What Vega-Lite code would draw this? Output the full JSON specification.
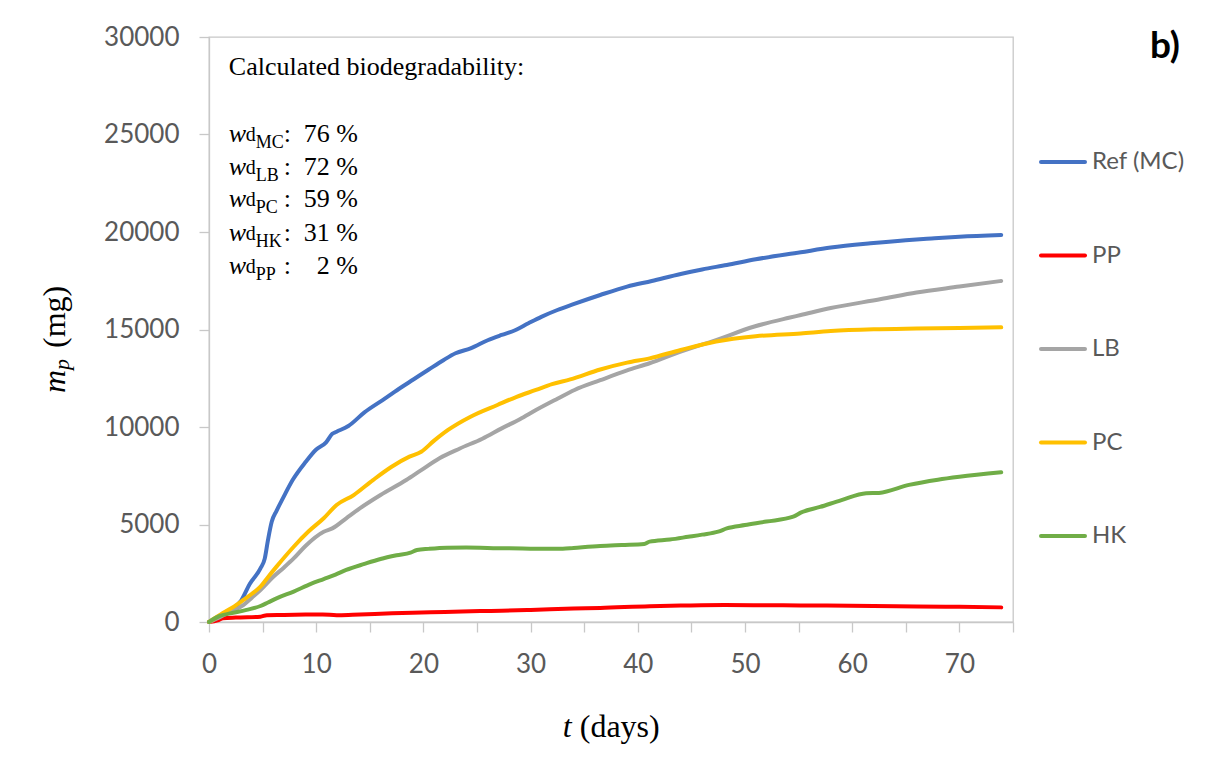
{
  "$schema": "https://vega.github.io/schema/vega-lite/v6.json",
  "width": 804,
  "height": 585,
  "autosize": {"type": "none"},
  "padding": {"left": 209, "top": 37, "right": 192, "bottom": 149},
  "background": "white",
  "config": {"view": {"stroke": "#c8c8c8", "strokeWidth": 1.3}, "font": "Lato"},
  "title": {"text": "b)", "anchor": "end", "frame": "bounds", "orient": "top", "fontSize": 37, "fontWeight": "bold", "font": "Lato", "color": "#000000", "baseline": "top", "offset": -42, "dx": -5},
  "datasets": {
    "curves": [
      {"s": "Ref (MC)", "t": 0, "mp": 0}, {"s": "Ref (MC)", "t": 1, "mp": 250}, {"s": "Ref (MC)", "t": 2, "mp": 600}, {"s": "Ref (MC)", "t": 3, "mp": 1100}, {"s": "Ref (MC)", "t": 3.8, "mp": 1950}, {"s": "Ref (MC)", "t": 4.8, "mp": 2750}, {"s": "Ref (MC)", "t": 5.2, "mp": 3250}, {"s": "Ref (MC)", "t": 5.5, "mp": 4200}, {"s": "Ref (MC)", "t": 5.85, "mp": 5140}, {"s": "Ref (MC)", "t": 6.3, "mp": 5700}, {"s": "Ref (MC)", "t": 6.9, "mp": 6350}, {"s": "Ref (MC)", "t": 7.8, "mp": 7280}, {"s": "Ref (MC)", "t": 9, "mp": 8200}, {"s": "Ref (MC)", "t": 10, "mp": 8850}, {"s": "Ref (MC)", "t": 10.9, "mp": 9200}, {"s": "Ref (MC)", "t": 11.5, "mp": 9650}, {"s": "Ref (MC)", "t": 11.9, "mp": 9760}, {"s": "Ref (MC)", "t": 13, "mp": 10050}, {"s": "Ref (MC)", "t": 14.5, "mp": 10750}, {"s": "Ref (MC)", "t": 16.2, "mp": 11380}, {"s": "Ref (MC)", "t": 17.7, "mp": 11950}, {"s": "Ref (MC)", "t": 19.1, "mp": 12450}, {"s": "Ref (MC)", "t": 20.5, "mp": 12950}, {"s": "Ref (MC)", "t": 21.9, "mp": 13440}, {"s": "Ref (MC)", "t": 23, "mp": 13780}, {"s": "Ref (MC)", "t": 24.4, "mp": 14030}, {"s": "Ref (MC)", "t": 26, "mp": 14450}, {"s": "Ref (MC)", "t": 27.3, "mp": 14720}, {"s": "Ref (MC)", "t": 28.5, "mp": 14950}, {"s": "Ref (MC)", "t": 29.8, "mp": 15320}, {"s": "Ref (MC)", "t": 31, "mp": 15650}, {"s": "Ref (MC)", "t": 32.5, "mp": 16000}, {"s": "Ref (MC)", "t": 34, "mp": 16300}, {"s": "Ref (MC)", "t": 36.5, "mp": 16770}, {"s": "Ref (MC)", "t": 39, "mp": 17200}, {"s": "Ref (MC)", "t": 41.3, "mp": 17490}, {"s": "Ref (MC)", "t": 44, "mp": 17850}, {"s": "Ref (MC)", "t": 46, "mp": 18080}, {"s": "Ref (MC)", "t": 48.3, "mp": 18310}, {"s": "Ref (MC)", "t": 51, "mp": 18600}, {"s": "Ref (MC)", "t": 55.2, "mp": 18960}, {"s": "Ref (MC)", "t": 58, "mp": 19200}, {"s": "Ref (MC)", "t": 61.7, "mp": 19420}, {"s": "Ref (MC)", "t": 65, "mp": 19580}, {"s": "Ref (MC)", "t": 67.4, "mp": 19670}, {"s": "Ref (MC)", "t": 70, "mp": 19760}, {"s": "Ref (MC)", "t": 73.9, "mp": 19850},
      {"s": "PP", "t": 0, "mp": 0}, {"s": "PP", "t": 0.8, "mp": 80}, {"s": "PP", "t": 1.3, "mp": 190}, {"s": "PP", "t": 2.5, "mp": 230}, {"s": "PP", "t": 4.8, "mp": 270}, {"s": "PP", "t": 5.4, "mp": 350}, {"s": "PP", "t": 7, "mp": 360}, {"s": "PP", "t": 9, "mp": 380}, {"s": "PP", "t": 10.6, "mp": 390}, {"s": "PP", "t": 11.9, "mp": 350}, {"s": "PP", "t": 13.4, "mp": 370}, {"s": "PP", "t": 16, "mp": 420}, {"s": "PP", "t": 19, "mp": 480}, {"s": "PP", "t": 22, "mp": 510}, {"s": "PP", "t": 25.3, "mp": 560}, {"s": "PP", "t": 27.3, "mp": 580}, {"s": "PP", "t": 30, "mp": 620}, {"s": "PP", "t": 34, "mp": 690}, {"s": "PP", "t": 36.5, "mp": 720}, {"s": "PP", "t": 41.1, "mp": 810}, {"s": "PP", "t": 44, "mp": 840}, {"s": "PP", "t": 48.1, "mp": 870}, {"s": "PP", "t": 52, "mp": 860}, {"s": "PP", "t": 55.2, "mp": 850}, {"s": "PP", "t": 62, "mp": 820}, {"s": "PP", "t": 66, "mp": 800}, {"s": "PP", "t": 70, "mp": 780}, {"s": "PP", "t": 73.9, "mp": 750},
      {"s": "LB", "t": 0, "mp": 0}, {"s": "LB", "t": 1, "mp": 250}, {"s": "LB", "t": 2, "mp": 530}, {"s": "LB", "t": 3.2, "mp": 870}, {"s": "LB", "t": 4, "mp": 1250}, {"s": "LB", "t": 4.8, "mp": 1640}, {"s": "LB", "t": 6, "mp": 2320}, {"s": "LB", "t": 7, "mp": 2800}, {"s": "LB", "t": 7.9, "mp": 3260}, {"s": "LB", "t": 9, "mp": 3900}, {"s": "LB", "t": 10.7, "mp": 4630}, {"s": "LB", "t": 11.5, "mp": 4800}, {"s": "LB", "t": 12.8, "mp": 5320}, {"s": "LB", "t": 14, "mp": 5800}, {"s": "LB", "t": 16, "mp": 6510}, {"s": "LB", "t": 18.4, "mp": 7280}, {"s": "LB", "t": 19.8, "mp": 7790}, {"s": "LB", "t": 21.5, "mp": 8400}, {"s": "LB", "t": 23.4, "mp": 8900}, {"s": "LB", "t": 25.5, "mp": 9400}, {"s": "LB", "t": 27.3, "mp": 9930}, {"s": "LB", "t": 29, "mp": 10400}, {"s": "LB", "t": 30.5, "mp": 10870}, {"s": "LB", "t": 32.5, "mp": 11450}, {"s": "LB", "t": 34.1, "mp": 11900}, {"s": "LB", "t": 36.5, "mp": 12400}, {"s": "LB", "t": 39, "mp": 12900}, {"s": "LB", "t": 41.1, "mp": 13270}, {"s": "LB", "t": 44, "mp": 13870}, {"s": "LB", "t": 47.3, "mp": 14460}, {"s": "LB", "t": 50.8, "mp": 15140}, {"s": "LB", "t": 54.1, "mp": 15600}, {"s": "LB", "t": 55.2, "mp": 15740}, {"s": "LB", "t": 58, "mp": 16100}, {"s": "LB", "t": 62.7, "mp": 16560}, {"s": "LB", "t": 66, "mp": 16900}, {"s": "LB", "t": 70, "mp": 17200}, {"s": "LB", "t": 73.9, "mp": 17490},
      {"s": "PC", "t": 0, "mp": 0}, {"s": "PC", "t": 1.3, "mp": 460}, {"s": "PC", "t": 2.2, "mp": 750}, {"s": "PC", "t": 3.2, "mp": 1130}, {"s": "PC", "t": 4, "mp": 1450}, {"s": "PC", "t": 4.8, "mp": 1810}, {"s": "PC", "t": 5.5, "mp": 2300}, {"s": "PC", "t": 6.3, "mp": 2840}, {"s": "PC", "t": 7.9, "mp": 3860}, {"s": "PC", "t": 9.3, "mp": 4650}, {"s": "PC", "t": 10.7, "mp": 5320}, {"s": "PC", "t": 11.9, "mp": 6000}, {"s": "PC", "t": 13.5, "mp": 6510}, {"s": "PC", "t": 15.3, "mp": 7280}, {"s": "PC", "t": 17, "mp": 7950}, {"s": "PC", "t": 18.7, "mp": 8480}, {"s": "PC", "t": 19.8, "mp": 8730}, {"s": "PC", "t": 21, "mp": 9300}, {"s": "PC", "t": 22.3, "mp": 9850}, {"s": "PC", "t": 24.4, "mp": 10530}, {"s": "PC", "t": 26.9, "mp": 11130}, {"s": "PC", "t": 28.7, "mp": 11550}, {"s": "PC", "t": 30.5, "mp": 11900}, {"s": "PC", "t": 32, "mp": 12200}, {"s": "PC", "t": 33.7, "mp": 12440}, {"s": "PC", "t": 36.5, "mp": 12950}, {"s": "PC", "t": 39, "mp": 13300}, {"s": "PC", "t": 41.1, "mp": 13520}, {"s": "PC", "t": 44, "mp": 13950}, {"s": "PC", "t": 47.3, "mp": 14380}, {"s": "PC", "t": 51, "mp": 14650}, {"s": "PC", "t": 55.2, "mp": 14800}, {"s": "PC", "t": 58, "mp": 14920}, {"s": "PC", "t": 62, "mp": 15010}, {"s": "PC", "t": 66, "mp": 15050}, {"s": "PC", "t": 70, "mp": 15080}, {"s": "PC", "t": 73.9, "mp": 15110},
      {"s": "HK", "t": 0, "mp": 0}, {"s": "HK", "t": 1, "mp": 310}, {"s": "HK", "t": 2, "mp": 440}, {"s": "HK", "t": 3.5, "mp": 620}, {"s": "HK", "t": 4.8, "mp": 820}, {"s": "HK", "t": 5.5, "mp": 1000}, {"s": "HK", "t": 6.3, "mp": 1210}, {"s": "HK", "t": 7.9, "mp": 1560}, {"s": "HK", "t": 9.5, "mp": 1950}, {"s": "HK", "t": 10.7, "mp": 2200}, {"s": "HK", "t": 11.8, "mp": 2430}, {"s": "HK", "t": 12.8, "mp": 2670}, {"s": "HK", "t": 14.5, "mp": 2980}, {"s": "HK", "t": 16, "mp": 3230}, {"s": "HK", "t": 17.5, "mp": 3420}, {"s": "HK", "t": 18.8, "mp": 3560}, {"s": "HK", "t": 19.4, "mp": 3690}, {"s": "HK", "t": 20.5, "mp": 3750}, {"s": "HK", "t": 22.2, "mp": 3810}, {"s": "HK", "t": 24, "mp": 3820}, {"s": "HK", "t": 25.3, "mp": 3810}, {"s": "HK", "t": 26.9, "mp": 3780}, {"s": "HK", "t": 28, "mp": 3780}, {"s": "HK", "t": 30.5, "mp": 3760}, {"s": "HK", "t": 33, "mp": 3760}, {"s": "HK", "t": 34, "mp": 3800}, {"s": "HK", "t": 36.5, "mp": 3900}, {"s": "HK", "t": 38.5, "mp": 3950}, {"s": "HK", "t": 40.6, "mp": 4000}, {"s": "HK", "t": 41.1, "mp": 4120}, {"s": "HK", "t": 43, "mp": 4230}, {"s": "HK", "t": 44.7, "mp": 4370}, {"s": "HK", "t": 46, "mp": 4480}, {"s": "HK", "t": 47.5, "mp": 4630}, {"s": "HK", "t": 48.3, "mp": 4800}, {"s": "HK", "t": 50, "mp": 4970}, {"s": "HK", "t": 52, "mp": 5150}, {"s": "HK", "t": 54.5, "mp": 5400}, {"s": "HK", "t": 55.2, "mp": 5610}, {"s": "HK", "t": 57, "mp": 5900}, {"s": "HK", "t": 59, "mp": 6250}, {"s": "HK", "t": 61.3, "mp": 6600}, {"s": "HK", "t": 62.5, "mp": 6620}, {"s": "HK", "t": 65.3, "mp": 7030}, {"s": "HK", "t": 68, "mp": 7300}, {"s": "HK", "t": 70, "mp": 7450}, {"s": "HK", "t": 73.9, "mp": 7680}
    ],
    "heading": [{"label": "Calculated biodegradability:", "t": 1.85, "mp": 28051}],
    "wd": [
      {"sub": "MC", "val": "76 %", "t": 1.85, "mp": 24615},
      {"sub": "LB", "val": "72 %", "t": 1.85, "mp": 22923},
      {"sub": "PC", "val": "59 %", "t": 1.85, "mp": 21282},
      {"sub": "HK", "val": "31 %", "t": 1.85, "mp": 19538},
      {"sub": "PP", "val": "2 %", "t": 1.85, "mp": 17846}
    ],
    "ytitle": [{"t": -13.4, "mp": 11744}],
    "xtitle": [{"t": 33.0, "mp": -5897}]
  },
  "encoding": {
    "x": {
      "field": "t", "type": "quantitative",
      "scale": {"domain": [0, 75], "nice": false, "zero": false},
      "axis": {
        "title": null, "grid": false,
        "values": [0, 5, 10, 15, 20, 25, 30, 35, 40, 45, 50, 55, 60, 65, 70, 75],
        "labelExpr": "datum.value % 10 == 0 && datum.value < 75 ? datum.label : ''",
        "domainColor": "#c8c8c8", "domainWidth": 1.3, "tickColor": "#c8c8c8", "tickWidth": 1.3, "tickSize": 10,
        "labelFont": "Lato", "labelFontSize": 26, "labelColor": "#595959", "labelPadding": 19,
        "labelOverlap": false, "labelFlush": false, "labelBound": false
      }
    },
    "y": {
      "field": "mp", "type": "quantitative",
      "scale": {"domain": [0, 30000], "nice": false, "zero": false},
      "axis": {
        "title": null, "grid": false,
        "values": [0, 5000, 10000, 15000, 20000, 25000, 30000],
        "format": "d",
        "domainColor": "#c8c8c8", "domainWidth": 1.3, "tickColor": "#c8c8c8", "tickWidth": 1.3, "tickSize": 10,
        "labelFont": "Lato", "labelFontSize": 26, "labelColor": "#595959", "labelPadding": 20,
        "labelOverlap": false, "labelFlush": false, "labelBound": false
      }
    }
  },
  "layer": [
    {
      "data": {"name": "curves"},
      "mark": {"type": "line", "strokeWidth": 4, "interpolate": "monotone", "strokeCap": "round", "strokeJoin": "round"},
      "encoding": {
        "color": {
          "field": "s", "type": "nominal",
          "scale": {"domain": ["Ref (MC)", "PP", "LB", "PC", "HK"], "range": ["#4472C4", "#FF0000", "#A5A5A5", "#FFC000", "#70AD47"]},
          "legend": {
            "orient": "none", "legendX": 830, "legendY": 101, "title": null,
            "symbolType": "stroke", "symbolSize": 1936, "symbolStrokeWidth": 4,
            "labelFont": "Lato", "labelFontSize": 24, "labelColor": "#595959", "labelOffset": 5,
            "rowPadding": 57.5, "padding": 0,
            "encode": {"symbols": {"update": {"strokeCap": {"value": "round"}}}}
          }
        }
      }
    },
    {
      "data": {"name": "heading"},
      "mark": {"type": "text", "font": "Liberation Serif", "fontSize": 26, "align": "left", "baseline": "alphabetic", "color": "#000000"},
      "encoding": {"text": {"field": "label"}}
    },
    {
      "data": {"name": "wd"},
      "mark": {"type": "text", "font": "Liberation Serif", "fontStyle": "italic", "fontSize": 26, "align": "left", "baseline": "alphabetic", "color": "#000000"},
      "encoding": {"text": {"value": "w"}}
    },
    {
      "data": {"name": "wd"},
      "mark": {"type": "text", "font": "Liberation Serif", "fontSize": 20, "align": "left", "baseline": "alphabetic", "color": "#000000", "dx": 17, "dy": -1},
      "encoding": {"text": {"value": "d"}}
    },
    {
      "data": {"name": "wd"},
      "mark": {"type": "text", "font": "Liberation Serif", "fontSize": 18, "align": "left", "baseline": "alphabetic", "color": "#000000", "dx": 27, "dy": 6},
      "encoding": {"text": {"field": "sub"}}
    },
    {
      "data": {"name": "wd"},
      "mark": {"type": "text", "font": "Liberation Serif", "fontSize": 26, "align": "left", "baseline": "alphabetic", "color": "#000000", "dx": 55},
      "encoding": {"text": {"value": ":"}}
    },
    {
      "data": {"name": "wd"},
      "mark": {"type": "text", "font": "Liberation Serif", "fontSize": 26, "align": "right", "baseline": "alphabetic", "color": "#000000", "dx": 129},
      "encoding": {"text": {"field": "val"}}
    },
    {
      "data": {"name": "ytitle"},
      "mark": {"type": "text", "font": "Liberation Serif", "fontStyle": "italic", "fontSize": 32, "align": "left", "baseline": "alphabetic", "angle": 270, "color": "#000000"},
      "encoding": {"text": {"value": "m"}}
    },
    {
      "data": {"name": "ytitle"},
      "mark": {"type": "text", "font": "Liberation Serif", "fontStyle": "italic", "fontSize": 22, "align": "left", "baseline": "alphabetic", "angle": 270, "color": "#000000", "dx": 23, "dy": 4},
      "encoding": {"text": {"value": "p"}}
    },
    {
      "data": {"name": "ytitle"},
      "mark": {"type": "text", "font": "Liberation Serif", "fontSize": 32, "align": "left", "baseline": "alphabetic", "angle": 270, "color": "#000000", "dx": 45},
      "encoding": {"text": {"value": "(mg)"}}
    },
    {
      "data": {"name": "xtitle"},
      "mark": {"type": "text", "font": "Liberation Serif", "fontStyle": "italic", "fontSize": 32, "align": "left", "baseline": "alphabetic", "color": "#000000"},
      "encoding": {"text": {"value": "t"}}
    },
    {
      "data": {"name": "xtitle"},
      "mark": {"type": "text", "font": "Liberation Serif", "fontSize": 32, "align": "left", "baseline": "alphabetic", "color": "#000000", "dx": 17},
      "encoding": {"text": {"value": "(days)"}}
    }
  ]
}
